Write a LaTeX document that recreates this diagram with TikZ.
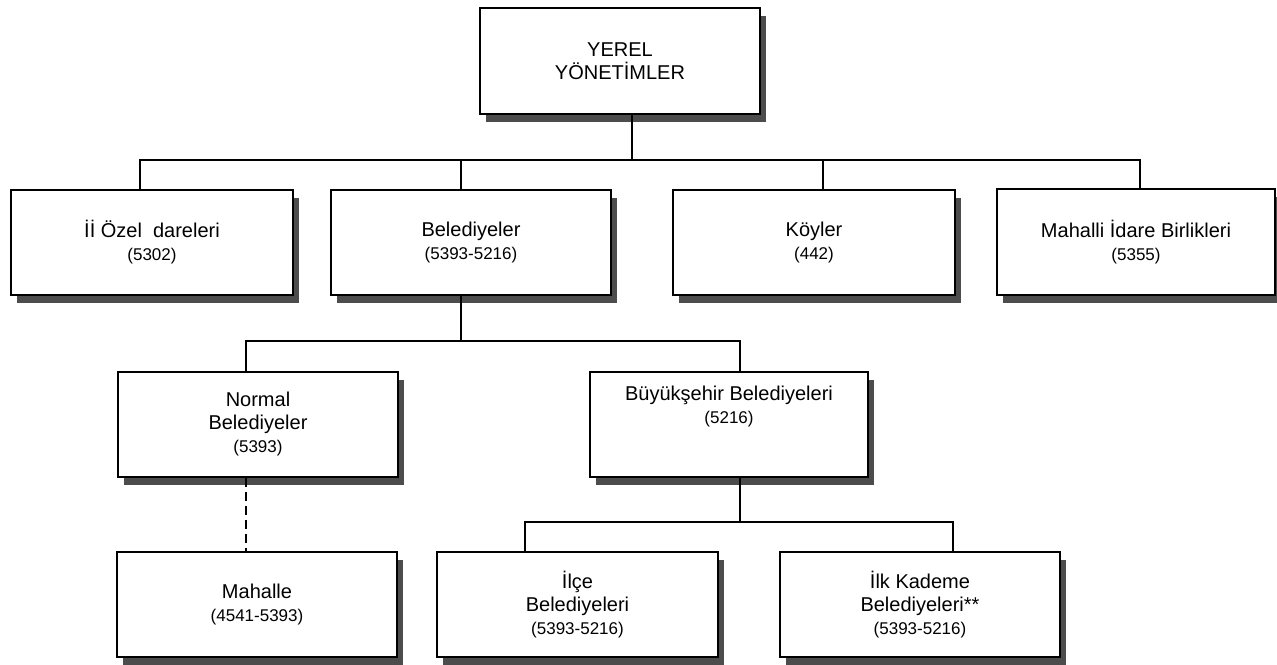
\documentclass[tikz,border=0pt]{standalone}
\usepackage{fontspec}
\setmainfont{Liberation Sans}
\usetikzlibrary{shadows}
\newcommand{\numf}{\fontsize{17}{23}\selectfont}
\begin{document}
\begin{tikzpicture}[x=1pt,y=-1pt,
  box/.style={draw=black, line width=1.8pt, fill=white, align=center,
    font=\fontsize{20}{23}\selectfont, inner sep=0pt,
    drop shadow={shadow xshift=5.5pt, shadow yshift=-7.5pt, fill=black!70, opacity=1}},
  conn/.style={line width=1.6pt, draw=black},
  dashedconn/.style={line width=1.8pt, draw=black, dash pattern=on 9pt off 5pt}]
\useasboundingbox (0,0) rectangle (1277,664);
% boxes
\node[box, minimum width=280, minimum height=106] (top) at (620,61) {YEREL\\YÖNETİMLER};
\node[box, minimum width=282, minimum height=105] (ilozel) at (152,242.5) {İİ Özel\ \ dareleri\\{\numf (5302)}};
\node[box, minimum width=280, minimum height=105] (bel) at (471,242.5) {Belediyeler\\{\numf (5393-5216)}};
\node[box, minimum width=282, minimum height=105] (koy) at (814,242.5) {Köyler\\{\numf (442)}};
\node[box, minimum width=278, minimum height=106] (mib) at (1136,242) {Mahalli İdare Birlikleri\\{\numf (5355)}};
\node[box, minimum width=280, minimum height=105] (normal) at (258,424.5) {Normal\\Belediyeler\\{\numf (5393)}};
\node[box, minimum width=278, minimum height=105, text depth=40pt] (buyuk) at (729,424.5) {Büyükşehir Belediyeleri\\{\numf (5216)}};
\node[box, minimum width=280, minimum height=105] (mahalle) at (257,604.5) {Mahalle\\{\numf (4541-5393)}};
\node[box, minimum width=281, minimum height=105] (ilce) at (577.5,604.5) {İlçe\\Belediyeleri\\{\numf (5393-5216)}};
\node[box, minimum width=280, minimum height=105] (ilk) at (920,604.5) {İlk Kademe\\Belediyeleri**\\{\numf (5393-5216)}};
% level 1 connectors
\coordinate (t0) at ([xshift=12pt]top.south);
\draw[conn] (t0) -- ++(0,45) coordinate (j1);
\coordinate (d1) at ([xshift=-12pt]ilozel.north);
\coordinate (d2) at ([xshift=-10pt]bel.north);
\coordinate (d3) at ([xshift=9pt]koy.north);
\coordinate (d4) at ([xshift=4pt]mib.north);
\draw[conn] (d1) -- (d1 |- j1) -- (d4 |- j1) -- (d4);
\draw[conn] (d2) -- (d2 |- j1);
\draw[conn] (d3) -- (d3 |- j1);
% level 2 connectors
\coordinate (b0) at ([xshift=-10pt]bel.south);
\draw[conn] (b0) -- ++(0,45) coordinate (j2);
\coordinate (e1) at ([xshift=-12pt]normal.north);
\coordinate (e2) at ([xshift=11pt]buyuk.north);
\draw[conn] (e1) -- (e1 |- j2) -- (e2 |- j2) -- (e2);
% level 3 connectors
\coordinate (c0) at ([xshift=11pt]buyuk.south);
\draw[conn] (c0) -- ++(0,44) coordinate (j3);
\coordinate (f1) at ([xshift=-52.5pt]ilce.north);
\coordinate (f2) at ([xshift=33pt]ilk.north);
\draw[conn] (f1) -- (f1 |- j3) -- (f2 |- j3) -- (f2);
% dashed link
\coordinate (m0) at ([xshift=-12pt]normal.south);
\draw[dashedconn] (m0) -- (m0 |- mahalle.north);
\end{tikzpicture}
\end{document}
